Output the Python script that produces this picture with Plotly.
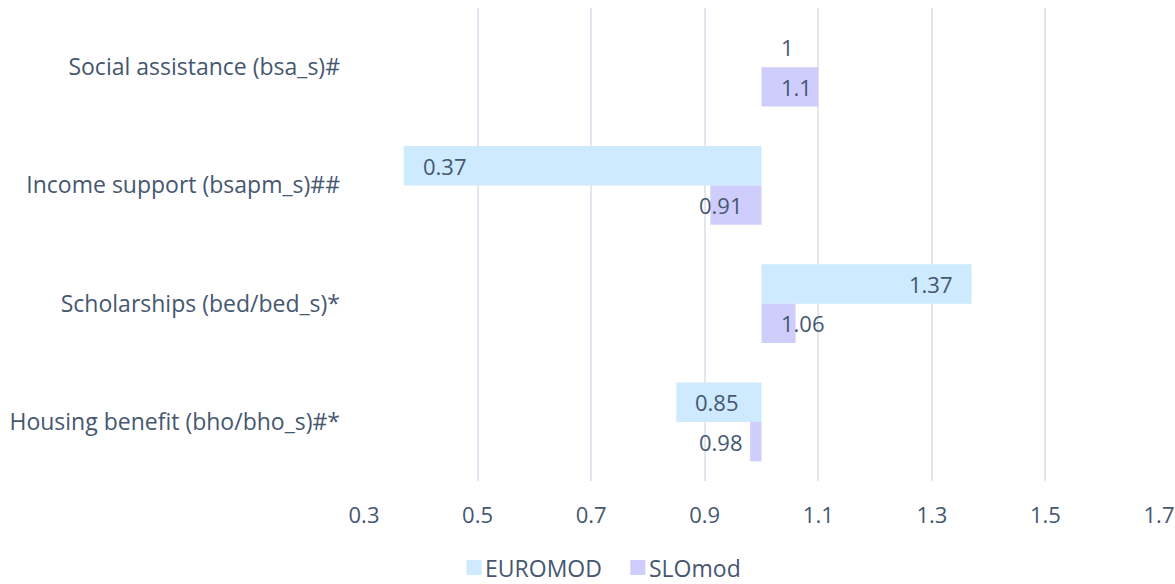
import plotly.graph_objects as go

categories = ["Social assistance (bsa_s)#", "Income support (bsapm_s)##",
              "Scholarships (bed/bed_s)*", "Housing benefit (bho/bho_s)#*"]
euromod = [1.0, 0.37, 1.37, 0.85]
slomod = [1.1, 0.91, 1.06, 0.98]
labels_euromod = ["1", "0.37", "1.37", "0.85"]
labels_slomod = ["1.1", "0.91", "1.06", "0.98"]
series_names = ["EUROMOD", "SLOmod"]
tick_vals = [0.3, 0.5, 0.7, 0.9, 1.1, 1.3, 1.5, 1.7]
tick_text = ["0.3", "0.5", "0.7", "0.9", "1.1", "1.3", "1.5", "1.7"]
base_value = 1.0

FONT = "Open Sans"
TXT = "#465770"
FS_CAT = 23
FS_NUM = 22
C_EURO = "#cdeafe"
C_SLO = "#cfcdfc"
colors = [C_EURO, C_SLO]

W, H = 1175, 584
ML, MR, MT, MB = 363.5, 16, 8, 103
PW, PH = W - ML - MR, H - MT - MB

fig = go.Figure()
for name, vals, col in zip(series_names, (euromod, slomod), colors):
    fig.add_trace(go.Bar(
        name=name, y=categories, x=[v - base_value for v in vals],
        base=base_value, orientation="h", marker=dict(color=col, line=dict(width=0)),
        showlegend=False,
    ))

PAD = 17
BAR_PX = 39.5
annotations = []
shapes = []
for vals, labs, shift in ((euromod, labels_euromod, BAR_PX / 2), (slomod, labels_slomod, -BAR_PX / 2)):
    for cat, v, lab in zip(categories, vals, labs):
        d = v - base_value
        fits = abs(d) >= 0.12
        if d >= 0:
            if fits:
                x, anchor, xs = v, "right", -PAD
            else:
                x, anchor, xs = base_value, "left", PAD
        else:
            if fits:
                x, anchor, xs = v, "left", PAD
            else:
                x, anchor, xs = base_value, "right", -PAD
        annotations.append(dict(
            x=x, y=cat, xref="x", yref="y", text=lab, showarrow=False,
            xanchor=anchor, yanchor="middle", xshift=xs, yshift=shift,
            font=dict(family=FONT, size=FS_NUM, color=TXT),
        ))

# custom legend (swatch + label), positioned in pixels below the plot
legend_y_px = 567.5
legend_items_px = [466, 630]  # left edge of each swatch
SW = 15
for name, col, left in zip(series_names, colors, legend_items_px):
    cx = (left + SW / 2 - ML) / PW
    cy = (H - MB - legend_y_px) / PH
    shapes.append(dict(
        type="rect", xref="paper", yref="paper",
        xsizemode="pixel", ysizemode="pixel", xanchor=cx, yanchor=cy,
        x0=-SW / 2, x1=SW / 2, y0=-SW / 2, y1=SW / 2,
        fillcolor=col, line=dict(width=0), layer="above",
    ))
    annotations.append(dict(
        x=cx, y=cy, xref="paper", yref="paper", text=name, showarrow=False,
        xanchor="left", yanchor="middle", xshift=SW / 2 + 3, yshift=0,
        borderpad=0,
        font=dict(family=FONT, size=FS_CAT, color=TXT),
    ))

fig.update_layout(
    width=W, height=H,
    margin=dict(l=ML, r=MR, t=MT, b=MB, autoexpand=False),
    paper_bgcolor="white", plot_bgcolor="white",
    barmode="group", bargap=0.332, bargroupgap=0,
    font=dict(family=FONT, size=FS_CAT, color=TXT),
    showlegend=False,
    annotations=annotations,
    shapes=shapes,
)
fig.update_xaxes(
    range=[0.3, 1.7], tickvals=tick_vals, ticktext=tick_text,
    showgrid=True, gridcolor="#e2e7ef", gridwidth=2, zeroline=False,
    showline=False, ticks="", ticklabelstandoff=19, automargin=False,
    ticklabeloverflow="allow",
    tickfont=dict(family=FONT, size=FS_NUM, color=TXT),
)
fig.update_yaxes(
    categoryorder="array", categoryarray=categories, autorange="reversed",
    showgrid=False, zeroline=False, showline=False, ticks="", ticklabelstandoff=23,
    automargin=False,
    tickfont=dict(family=FONT, size=FS_CAT, color=TXT),
)

fig.write_html("out.html", config={"displayModeBar": False},
               post_script="document.body.style.margin='0';")
